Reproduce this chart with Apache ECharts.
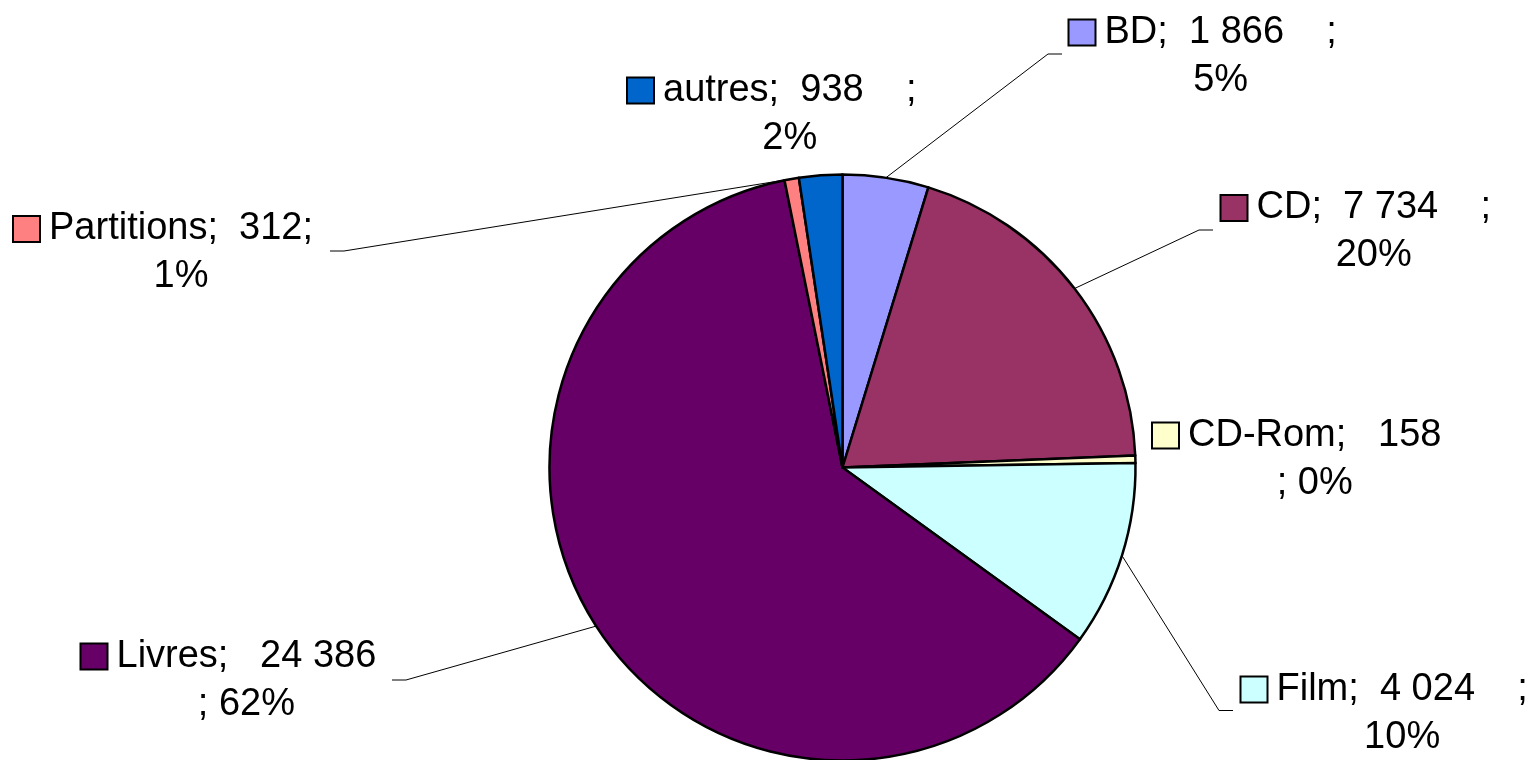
<!DOCTYPE html>
<html>
<head>
<meta charset="utf-8">
<script src="https://cdn.jsdelivr.net/npm/echarts@6/dist/echarts.min.js"></script>
<style>
  html, body { margin: 0; padding: 0; background: #ffffff; }
  #chart { width: 1537px; height: 760px; }
</style>
</head>
<body>
<div id="chart"></div>
<script>
// Loans by media type (count of documents)
const categories = ['BD', 'CD', 'CD-Rom', 'Film', 'Livres', 'Partitions', 'autres'];
const values = [1866, 7734, 158, 4024, 24386, 312, 938];
const colors = ['#9999FF', '#993366', '#FFFFCC', '#CCFFFF', '#660066', '#FF8080', '#0066CC'];

// How each label's text is split over its two lines
const labelWrap = {
  'BD': 'padded', 'CD': 'padded', 'Film': 'padded', 'autres': 'padded',
  'CD-Rom': 'split', 'Livres': 'split', 'Partitions': 'tight'
};

// Label block placement (top-left of the legend key) and leader-line end
const labelSpots = {
  'BD':         { x: 1069.5, y: 8.5,   end: [1062, 54] },
  'CD':         { x: 1221.5, y: 184,   end: [1213, 230] },
  'CD-Rom':     { x: 1153,   y: 411.5 },
  'Film':       { x: 1241.5, y: 665.5, end: [1233, 710.5] },
  'Livres':     { x: 81.5,   y: 632.5, end: [392, 680] },
  'Partitions': { x: 14,     y: 205,   end: [330, 251] },
  'autres':     { x: 628,    y: 66.5 }
};

const FONT = '"Liberation Sans", Arial, Helvetica, sans-serif';
const FONT_SIZE = 38;
const LINE_H = 48;

// French thousands grouping with a no-break space
function fmtNum(v) {
  return String(v).replace(/\B(?=(\d{3})+(?!\d))/g, '\u00a0');
}

function labelLines(name, value, pct) {
  const n = fmtNum(value);
  switch (labelWrap[name]) {
    case 'tight': return [name + ';  ' + n + ';', pct + '%'];
    case 'split': return [name + ';   ' + n, '; ' + pct + '%'];
    default:      return [name + ';  ' + n + '    ;', pct + '%'];
  }
}

const rich = {
  g: { width: 10, lineHeight: LINE_H, align: 'center' },
  s: { width: 35, lineHeight: LINE_H, align: 'center' },
  t: { fontSize: FONT_SIZE, lineHeight: LINE_H, fontFamily: FONT, color: '#000', align: 'center' }
};
colors.forEach(function (c, i) {
  rich['k' + i] = {
    width: 25, height: 24, lineHeight: LINE_H, align: 'center',
    backgroundColor: c, borderColor: '#000', borderWidth: 2
  };
});

const noLine = { 'CD-Rom': true, 'autres': true };

const pieData = categories.map(function (name, i) {
  const item = { name: name, value: values[i], itemStyle: { color: colors[i] } };
  if (noLine[name]) item.labelLine = { show: false };
  return item;
});

const chart = echarts.init(document.getElementById('chart'), null, { renderer: 'canvas' });

chart.setOption({
  animation: false,
  backgroundColor: '#ffffff',
  series: [{
    type: 'pie',
    center: [842.5, 467.5],
    radius: 293,
    startAngle: 90,
    clockwise: true,
    avoidLabelOverlap: false,
    data: pieData,
    itemStyle: { borderColor: '#000000', borderWidth: 2.5 },
    emphasis: { disabled: true },
    label: {
      show: true,
      position: 'outside',
      color: '#000',
      fontFamily: FONT,
      fontSize: FONT_SIZE,
      lineHeight: LINE_H,
      formatter: function (p) {
        const lines = labelLines(p.name, p.value, Math.round(p.percent));
        return '{k' + p.dataIndex + '|}{g|}{t|' + lines[0] + '}\n{s|}{t|' + lines[1] + '}';
      },
      rich: rich
    },
    labelLine: {
      show: true,
      length: 20,
      length2: 20,
      smooth: false,
      lineStyle: { color: '#000000', width: 1 }
    },
    labelLayout: function (params) {
      const name = categories[params.dataIndex];
      const spot = labelSpots[name];
      const out = { x: spot.x, y: spot.y, align: 'left', verticalAlign: 'top' };
      if (spot.end && params.labelLinePoints) {
        const start = params.labelLinePoints[0];
        const dir = spot.end[0] > start[0] ? -1 : 1;
        out.labelLinePoints = [
          [start[0], start[1]],
          [spot.end[0] + dir * 14, spot.end[1]],
          [spot.end[0], spot.end[1]]
        ];
      }
      return out;
    }
  }]
});
</script>
</body>
</html>
